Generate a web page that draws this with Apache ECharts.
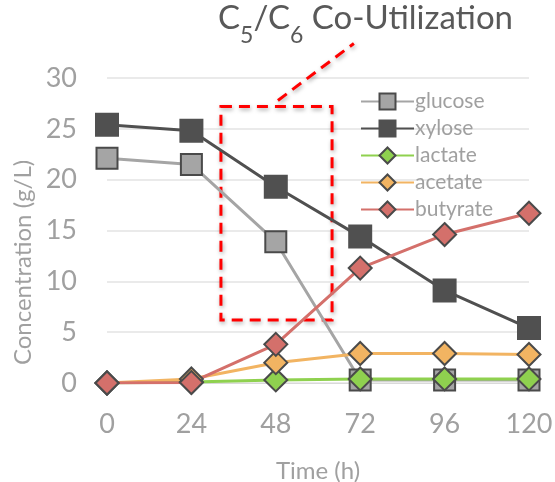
<!DOCTYPE html>
<html>
<head>
<meta charset="utf-8">
<script src="https://cdn.jsdelivr.net/npm/echarts@6/dist/echarts.min.js"></script>
<style>
  html, body { margin: 0; padding: 0; background: #fff; }
  #chart { width: 555px; height: 482px; }
</style>
</head>
<body>
<div id="chart"></div>
<script>
// time points (h)
const hours = [0, 24, 48, 72, 96, 120]
// concentrations (g/L)
const glucose = [22.1, 21.5, 13.9, 0.3, 0.3, 0.3]
const xylose = [25.4, 24.8, 19.3, 14.4, 9.1, 5.4]
const lactate = [0, 0.1, 0.3, 0.4, 0.4, 0.4]
const acetate = [0, 0.4, 2.0, 2.9, 2.9, 2.8]
const butyrate = [0, 0.05, 3.8, 11.3, 14.6, 16.7]
const yTicks = [0, 5, 10, 15, 20, 25, 30]
// dashed box around the co-utilization window (h, g/L)
const boxX = [32.4, 64.0]
const boxY = [6.2, 27.2]

const font = 'Lato, "Open Sans", sans-serif'
const gray = '#a0a0a0'

function pairs(vals) {
  return hours.map((h, i) => [h, vals[i]])
}

function lineSeries(name, vals, color, symbol, size) {
  return {
    name: name,
    type: 'line',
    data: pairs(vals),
    symbol: symbol,
    symbolSize: size,
    lineStyle: { color: color, width: 3 },
    itemStyle: { color: color, borderColor: '#4a4a4a', borderWidth: 2 },
    emphasis: { disabled: true },
    z: 3
  }
}

const myChart = echarts.init(document.getElementById('chart'))

const series = [
  lineSeries('glucose', glucose, '#a5a5a5', 'rect', 21),
  lineSeries('xylose', xylose, '#505050', 'rect', 22),
  lineSeries('lactate', lactate, '#8fd14f', 'diamond', 23),
  lineSeries('acetate', acetate, '#f2b462', 'diamond', 23),
  lineSeries('butyrate', butyrate, '#d4706b', 'diamond', 23)
]
series[1].itemStyle.borderColor = '#505050'

// dashed annotation box
series.push({
  type: 'line',
  data: [],
  silent: true,
  markArea: {
    silent: true,
    itemStyle: {
      color: 'rgba(0,0,0,0)',
      borderColor: '#ff0000',
      borderWidth: 3,
      borderType: [11, 7],
      shadowColor: 'rgba(0,0,0,0.35)',
      shadowBlur: 4,
      shadowOffsetX: 1,
      shadowOffsetY: 2
    },
    data: [[{ coord: [boxX[0], boxY[1]] }, { coord: [boxX[1], boxY[0]] }]]
  },
  z: 4
})

const option = {
  animation: false,
  grid: { left: 107, right: 26, top: 78, bottom: 99, outerBoundsMode: 'none', containLabel: false },
  legend: {
    orient: 'vertical',
    left: 360,
    top: 91,
    padding: 0,
    itemWidth: 53,
    itemHeight: 20,
    itemGap: 6,
    data: ['glucose', 'xylose', 'lactate', 'acetate', 'butyrate'],
    textStyle: { color: gray, fontSize: 21, lineHeight: 20, fontFamily: font, padding: [0, 0, 0, -4] }
  },
  xAxis: {
    type: 'value',
    min: 0,
    max: 120,
    interval: 24,
    name: 'Time (h)',
    nameLocation: 'middle',
    nameGap: 76,
    nameTextStyle: { color: gray, fontSize: 24, fontFamily: font },
    axisLine: { show: true, lineStyle: { color: '#d9d9d9' } },
    axisTick: { show: false },
    splitLine: { show: false },
    axisLabel: { color: gray, fontSize: 27, fontFamily: font, margin: 28 }
  },
  yAxis: {
    type: 'value',
    min: yTicks[0],
    max: yTicks[yTicks.length - 1],
    interval: 5,
    name: 'Concentration (g/L)',
    nameLocation: 'middle',
    nameGap: 70,
    nameTextStyle: { color: gray, fontSize: 24, fontFamily: font, padding: [0, 64, 0, 0] },
    axisLine: { show: false },
    axisTick: { show: false },
    splitLine: { lineStyle: { color: '#e3e3e3', width: 1.5 } },
    axisLabel: { color: gray, fontSize: 27, fontFamily: font, margin: 30 }
  },
  series: series
}

myChart.setOption(option)

// title and dashed leader line, anchored to the box via the axes
const boxTop = myChart.convertToPixel({ gridIndex: 0 }, [48.6, boxY[1]])
const leaderEnd = myChart.convertToPixel({ gridIndex: 0 }, [70.2, 33.4])
myChart.setOption({
  graphic: [
    {
      type: 'line',
      shape: { x1: boxTop[0], y1: boxTop[1] - 6, x2: leaderEnd[0], y2: leaderEnd[1] },
      style: {
        stroke: '#ff0000', lineWidth: 3, lineDash: [11, 7],
        shadowColor: 'rgba(0,0,0,0.35)', shadowBlur: 4, shadowOffsetX: 1, shadowOffsetY: 2
      },
      z: 10
    },
    {
      type: 'text',
      left: 218,
      top: 2,
      style: {
        text: '{n|C}{s|5}{n|/C}{s|6}{n| Co-Utilization}',
        rich: {
          n: { fontSize: 33, fontFamily: font, fill: '#595959', verticalAlign: 'top', lineHeight: 40 },
          s: { fontSize: 23, fontFamily: font, fill: '#595959', verticalAlign: 'top', lineHeight: 20, padding: [22, 0, 0, 0] }
        }
      }
    }
  ]
})
</script>
</body>
</html>
